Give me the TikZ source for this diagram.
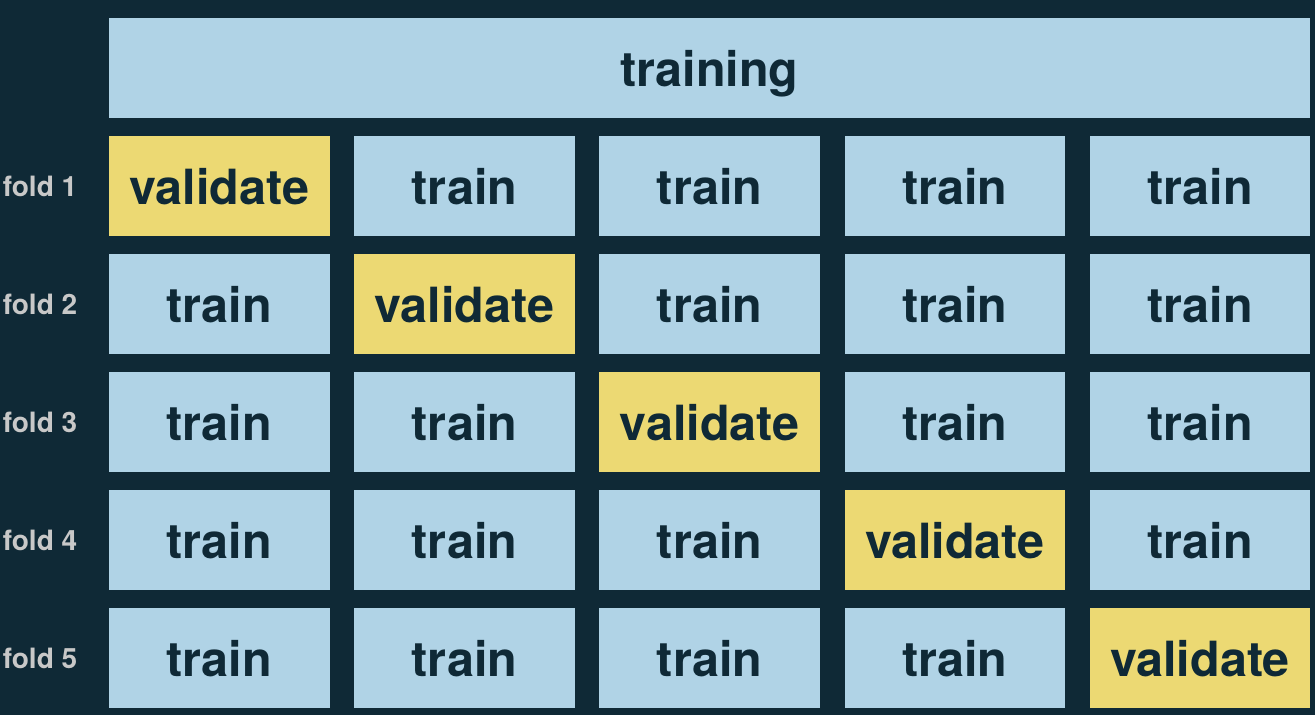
\documentclass[tikz,border=0pt]{standalone}
\usepackage{fontspec}
\setmainfont{TeX Gyre Heros}
\usepackage{xcolor}
\usepackage{tikz}
\definecolor{bgnavy}{HTML}{0F2936}
\definecolor{cellblue}{HTML}{B0D3E6}
\definecolor{cellyellow}{HTML}{ECD973}
\definecolor{foldgrey}{HTML}{C8C8C8}
\tikzset{
  cell/.style={fill=cellblue,text=bgnavy,inner sep=0pt,minimum width=220.5pt,
    minimum height=100pt,font=\bfseries\fontsize{48.5}{58}\selectfont,
    text height=40pt,text depth=2pt},
  valcell/.style={cell,fill=cellyellow},
  foldlabel/.style={text=foldgrey,inner sep=0pt,font=\bfseries\fontsize{28}{33}\selectfont}
}

\begin{document}
\begin{tikzpicture}[x=1pt,y=1pt]
                \fill[bgnavy] (0,0) rectangle (1315,715);
                \useasboundingbox (0,0) rectangle (1315,715);
                \node[cell,minimum width=1201pt] (training) at (709.5,647) {training};
                \foreach \r in {1,...,5}{
                  \node[foldlabel] (fold\r) at (40,{529-(\r-1)*118}) {fold \r};
                  \foreach \c in {1,...,5}{
                    \ifnum\r=\c
                      \node[valcell] (c\r\c) at ({219.25+(\c-1)*245.2},{529-(\r-1)*118}) {validate};
                    \else
                      \node[cell] (c\r\c) at ({219.25+(\c-1)*245.2},{529-(\r-1)*118}) {train};
                    \fi
                  }
                }
            \end{tikzpicture}
\end{document}
